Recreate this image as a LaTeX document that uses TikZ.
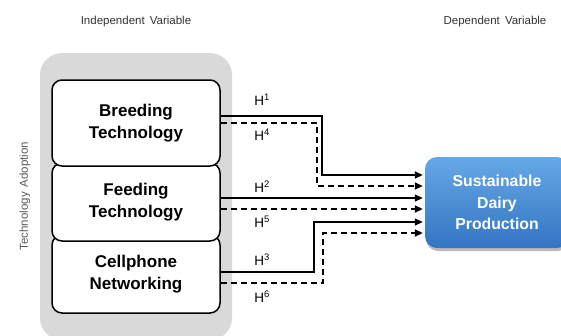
\documentclass[tikz,border=0pt]{standalone}
\usepackage{fontspec}
\setmainfont{Liberation Sans}
\usetikzlibrary{arrows.meta,shadows}
\definecolor{panelgray}{HTML}{D9D9D9}
\definecolor{blueTop}{HTML}{66A8E6}
\definecolor{blueBot}{HTML}{3375C2}
\definecolor{captiongray}{HTML}{333333}
\begin{document}
\begin{tikzpicture}[x=1pt,y=-1pt,
  techbox/.style={draw=black,line width=1.5pt,fill=white,rounded corners=10pt,
    minimum width=168pt,align=center,font=\fontsize{17}{22}\selectfont\bfseries},
  outcome/.style={rounded corners=12pt,minimum width=144pt,minimum height=91pt,
    top color=blueTop,bottom color=blueBot,text=white,align=center,
    font=\fontsize{15.8}{21.5}\selectfont\bfseries,
    drop shadow={shadow xshift=1pt,shadow yshift=-3pt,fill=black!45,opacity=0.6}},
  caption/.style={text=captiongray,font=\fontsize{11.5}{13}\selectfont},
  hlabel/.style={font=\fontsize{13.5}{15}\selectfont},
  link/.style={line width=1.5pt,-{Triangle[length=8pt,width=7pt]}},
  dlink/.style={link,dash pattern=on 6pt off 4pt}]
\clip (0,0) rectangle (561,335);
\fill[white] (0,0) rectangle (561,335);

% grey panel behind the three technology boxes
\fill[panelgray,rounded corners=22pt] (40,53) rectangle (232,340);

% column captions
\node[caption] (indep) at (136,22) {Independent\, Variable};
\node[caption] (dep) at (495,22) {Dependent\, Variable};
\node[caption,text=black!65,rotate=90] (adopt) at (25,196) {Technology\, Adoption};

% technology boxes (drawn bottom-up so each overlaps the one below)
\node[techbox,minimum height=78pt] (cell) at (136,274) {Cellphone\\Networking};
\node[techbox,minimum height=78pt] (feed) at (136,202) {Feeding\\Technology};
\node[techbox,minimum height=86pt] (breed) at (136,123) {Breeding\\Technology};

% dependent variable
\node[outcome] (dpp) at (497,202.5) {Sustainable\\Dairy\\Production};

% hypothesis paths
\draw[link]  ([yshift=7pt]breed.east) -| (322,175) -- ([xshift=-2pt,yshift=27.5pt]dpp.west);
\draw[dlink] (breed.east) -| (317,186) -- ([xshift=-2pt,yshift=16.5pt]dpp.west);
\draw[link]  ([yshift=4pt]feed.east) -- ([xshift=-2pt,yshift=4.5pt]dpp.west);
\draw[dlink] ([yshift=-7pt]feed.east) -- ([xshift=-2pt,yshift=-6.5pt]dpp.west);
\draw[link]  ([yshift=2pt]cell.east) -| (314,222) -- ([xshift=-2pt,yshift=-19.5pt]dpp.west);
\draw[dlink] ([yshift=-9pt]cell.east) -| (323,233) -- ([xshift=-2pt,yshift=-30.5pt]dpp.west);

% hypothesis labels
\node[hlabel] (h1) at (262,100) {H\textsuperscript{1}};
\node[hlabel] (h4) at (262,135) {H\textsuperscript{4}};
\node[hlabel] (h2) at (262,187) {H\textsuperscript{2}};
\node[hlabel] (h5) at (262,222) {H\textsuperscript{5}};
\node[hlabel] (h3) at (262,260) {H\textsuperscript{3}};
\node[hlabel] (h6) at (262,297) {H\textsuperscript{6}};
\end{tikzpicture}
\end{document}
